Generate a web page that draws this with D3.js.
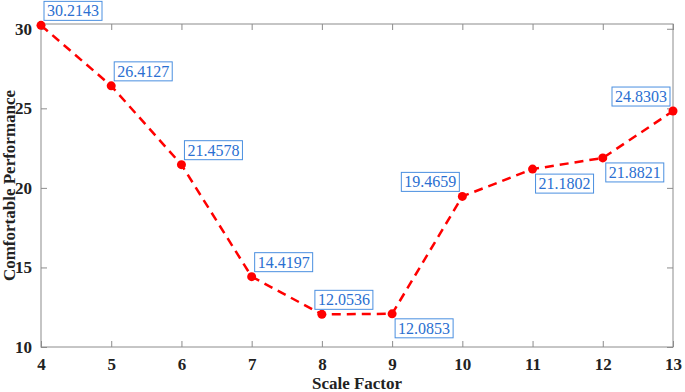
<!DOCTYPE html>
<html>
<head>
<meta charset="utf-8">
<script src="https://cdn.jsdelivr.net/npm/d3@7"></script>
<style>
  body { margin: 0; background: #fff; }
</style>
</head>
<body>
<div id="container"></div>
<script>
let w = 685;
let h = 392;

let scaleFactors = [4, 5, 6, 7, 8, 9, 10, 11, 12, 13];
let performance = [30.2143, 26.4127, 21.4578, 14.4197, 12.0536, 12.0853, 19.4659, 21.1802, 21.8821, 24.8303];
let labelText = ["30.2143", "26.4127", "21.4578", "14.4197", "12.0536", "12.0853", "19.4659", "21.1802", "21.8821", "24.8303"];
// where each value box sits relative to its point (u/d, l/r, m = nudged left over the point)
let labelSide = ["ur", "ur", "ur", "ur", "um", "dr", "ul", "dr", "dr", "ul"];
let yTicks = [10, 15, 20, 25, 30];

let padLeft = 41, padRight = 673, padTop = 24, padBottom = 347;
let fontName = "Liberation Serif";

let viz = d3.select("#container")
  .append("svg")
    .attr("width", w)
    .attr("height", h)
    .attr("font-family", fontName)
    .style("background-color", "white");

let xScale = d3.scaleLinear().domain([4, 13]).range([padLeft, padRight]);
let yScale = d3.scaleLinear().domain([10, 30.3]).range([padBottom, padTop]);

let axisColor = "#8c8c8c";

// box
viz.append("rect")
  .attr("x", padLeft).attr("y", padTop)
  .attr("width", padRight - padLeft).attr("height", padBottom - padTop)
  .attr("fill", "none").attr("stroke", axisColor).attr("stroke-width", 1);

// bottom axis, ticks inward
let xAxisGroup = viz.append("g")
  .attr("transform", "translate(0," + padBottom + ")")
  .call(d3.axisBottom(xScale).tickValues(scaleFactors).tickFormat(d3.format("d")).tickSizeInner(-6).tickSizeOuter(0).tickPadding(11));
let xTop = viz.append("g")
  .attr("transform", "translate(0," + padTop + ")")
  .call(d3.axisTop(xScale).tickValues(scaleFactors).tickFormat("").tickSizeInner(-6).tickSizeOuter(0));

let yAxisGroup = viz.append("g")
  .attr("transform", "translate(" + padLeft + ",0)")
  .call(d3.axisLeft(yScale).tickValues(yTicks).tickSizeInner(-6).tickSizeOuter(0).tickPadding(9));
let yRight = viz.append("g")
  .attr("transform", "translate(" + padRight + ",0)")
  .call(d3.axisRight(yScale).tickValues(yTicks).tickFormat("").tickSizeInner(-6).tickSizeOuter(0));

[xAxisGroup, xTop, yAxisGroup, yRight].forEach(function(g){
  g.attr("font-family", fontName);
  g.select(".domain").remove();
  g.selectAll("line").attr("stroke", axisColor);
  g.selectAll("text")
    .attr("fill", "#222")
    .attr("font-family", fontName)
    .attr("font-size", 17)
    .attr("font-weight", "bold");
});

// axis titles
viz.append("text")
  .attr("x", (padLeft + padRight) / 2).attr("y", 389)
  .attr("text-anchor", "middle")
  .attr("font-family", fontName)
  .attr("font-size", 17).attr("font-weight", "bold").attr("fill", "#222")
  .text("Scale Factor");

viz.append("text")
  .attr("transform", "translate(15," + ((padTop + padBottom) / 2) + ") rotate(-90)")
  .attr("text-anchor", "middle")
  .attr("font-family", fontName)
  .attr("font-size", 17).attr("font-weight", "bold").attr("fill", "#222")
  .text("Comfortable Performance");

// line
let line = d3.line()
  .x(function(d, i){ return xScale(scaleFactors[i]); })
  .y(function(d){ return yScale(d); });

viz.append("path")
  .datum(performance)
  .attr("d", line)
  .attr("fill", "none")
  .attr("stroke", "#ff0000")
  .attr("stroke-width", 2.5)
  .attr("stroke-dasharray", "9,6");

viz.selectAll(".pt")
  .data(performance)
  .enter()
  .append("circle")
    .attr("class", "pt")
    .attr("cx", function(d, i){ return xScale(scaleFactors[i]); })
    .attr("cy", function(d){ return yScale(d); })
    .attr("r", 4.5)
    .attr("fill", "#ff0000");

// value boxes
let labels = viz.selectAll(".lab")
  .data(performance)
  .enter()
  .append("g")
  .attr("class", "lab");

labels.each(function(d, i){
  let g = d3.select(this);
  let px = xScale(scaleFactors[i]);
  let py = yScale(d);
  let t = g.append("text")
    .attr("font-family", fontName)
    .attr("font-size", 16)
    .attr("fill", "#2a6fd1")
    .text(labelText[i]);
  let bb = t.node().getBBox();
  let bw = bb.width + 6, bh = 19;
  let side = labelSide[i];
  let bx = px + 3;
  if (side[1] == "l") bx = px - bw - 3;
  if (side[1] == "m") bx = px - 7;
  let by = side[0] == "u" ? py - bh - 5 : py + 5;
  g.insert("rect", "text")
    .attr("x", bx).attr("y", by)
    .attr("width", bw).attr("height", bh)
    .attr("fill", "white")
    .attr("stroke", "#4a8fe0")
    .attr("stroke-width", 1);
  t.attr("x", bx + 3).attr("y", by + 15);
});
</script>
</body>
</html>
